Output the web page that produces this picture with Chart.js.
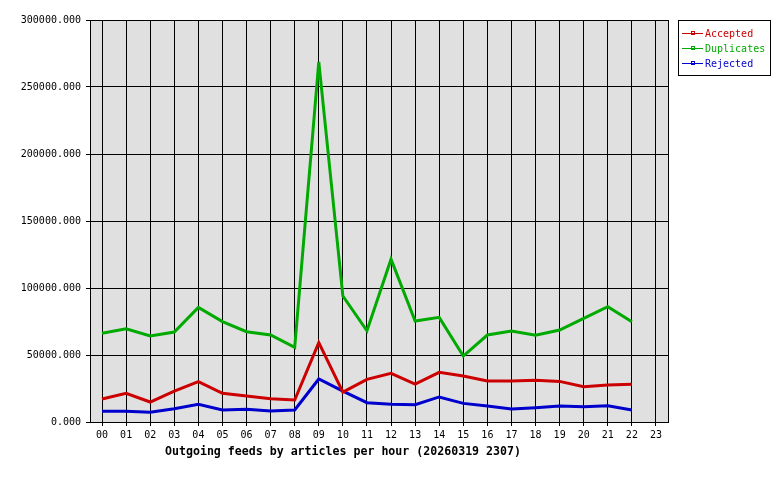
<!DOCTYPE html>
<html>
<head>
<meta charset="utf-8">
<script src="https://cdn.jsdelivr.net/npm/chart.js@4"></script>
<style>
  html, body { margin: 0; padding: 0; background: #fff; }
  canvas { display: block; }
</style>
</head>
<body>
<canvas id="feedChart" width="780" height="480"></canvas>
<script>
const hours = ['00','01','02','03','04','05','06','07','08','09','10','11',
               '12','13','14','15','16','17','18','19','20','21','22','23'];

const accepted = [17200, 21400, 14900, 23100, 30100, 21400, 19400, 17400, 16400, 59200, 22300, 31800,
                  36300, 28300, 37100, 34300, 30600, 30600, 31100, 30300, 26300, 27600, 28100, null];

const duplicates = [66200, 69600, 64200, 67100, 85500, 74900, 67400, 64900, 55700, 268700, 94000, 68100,
                    121500, 75300, 78100, 49200, 64900, 67900, 64700, 68600, 77300, 86000, 74800, null];

const rejected = [8000, 8000, 7200, 9900, 13200, 9000, 9500, 8200, 9000, 32100, 23000, 14400,
                  13200, 12900, 18700, 13900, 11900, 9700, 10700, 11900, 11400, 12200, 9000, null];

const yTicks = [0, 50000, 100000, 150000, 200000, 250000, 300000];
const chartTitle = 'Outgoing feeds by articles per hour (20260319 2307)';

Chart.defaults.font.family = "'DejaVu Sans Mono', 'Liberation Mono', monospace";
Chart.defaults.font.size = 10;
Chart.defaults.color = '#000';

// grey plot background + black frame
const frame = {
    id: 'frame',
    beforeDraw(chart) {
        const { ctx, chartArea: a } = chart;
        ctx.save();
        ctx.fillStyle = '#e0e0e0';
        ctx.fillRect(a.left, a.top, a.right - a.left, a.bottom - a.top);
        ctx.restore();
    },
    afterDatasetsDraw(chart) {
        const { ctx, chartArea: a } = chart;
        ctx.save();
        ctx.strokeStyle = '#000';
        ctx.lineWidth = 1;
        ctx.strokeRect(Math.round(a.left) + 0.5, Math.round(a.top) + 0.5,
                       Math.round(a.right - a.left), Math.round(a.bottom - a.top));
        ctx.restore();
    }
};

// legend box on the right and title under the axis
const extras = {
    id: 'extras',
    afterDraw(chart) {
        const { ctx } = chart;
        ctx.save();
        ctx.fillStyle = '#fff';
        ctx.fillRect(678.5, 20.5, 92, 55);
        ctx.strokeStyle = '#000';
        ctx.lineWidth = 1;
        ctx.strokeRect(678.5, 20.5, 92, 55);

        ctx.font = "10px 'DejaVu Sans Mono', monospace";
        ctx.textBaseline = 'middle';
        chart.data.datasets.forEach((ds, i) => {
            const y = 33 + i * 15;
            ctx.strokeStyle = ds.borderColor;
            ctx.beginPath();
            ctx.moveTo(682, y + 0.5);
            ctx.lineTo(703, y + 0.5);
            ctx.stroke();
            ctx.strokeRect(691.5, y - 1.5, 3, 3);
            ctx.fillStyle = ds.borderColor;
            ctx.fillText(ds.label, 705, y + 1);
        });

        ctx.fillStyle = '#000';
        ctx.font = "bold 11.6px 'DejaVu Sans Mono', monospace";
        ctx.textAlign = 'left';
        ctx.fillText(chartTitle, 165, 452);
        ctx.restore();
    }
};

new Chart(document.getElementById('feedChart').getContext('2d'), {
    type: 'line',
    data: {
        labels: hours,
        datasets: [
            { label: 'Accepted', data: accepted, borderColor: '#cc0000' },
            { label: 'Duplicates', data: duplicates, borderColor: '#00aa00' },
            { label: 'Rejected', data: rejected, borderColor: '#0000cc' }
        ].map(d => Object.assign(d, {
            borderWidth: 3,
            pointRadius: 0,
            tension: 0,
            fill: false,
            spanGaps: false
        }))
    },
    options: {
        responsive: false,
        animation: false,
        devicePixelRatio: 1,
        layout: { padding: { top: 20, right: 112, left: 0, bottom: 0 } },
        plugins: {
            legend: { display: false },
            title: { display: false },
            tooltip: { enabled: false }
        },
        scales: {
            x: {
                type: 'category',
                offset: true,
                grid: { offset: false, color: '#000', lineWidth: 1, tickLength: 4, drawTicks: true },
                border: { display: false },
                ticks: { padding: 3, maxRotation: 0, autoSkip: false },
                afterFit(scale) { scale.height = 58; }
            },
            y: {
                min: 0,
                max: 300000,
                afterBuildTicks(scale) { scale.ticks = yTicks.map(v => ({ value: v })); },
                grid: { color: '#000', lineWidth: 1, tickLength: 4, drawTicks: true },
                border: { display: false },
                ticks: { padding: 5, callback: v => v.toFixed(3) },
                afterFit(scale) { scale.width = 90; }
            }
        }
    },
    plugins: [frame, extras]
});
</script>
</body>
</html>
